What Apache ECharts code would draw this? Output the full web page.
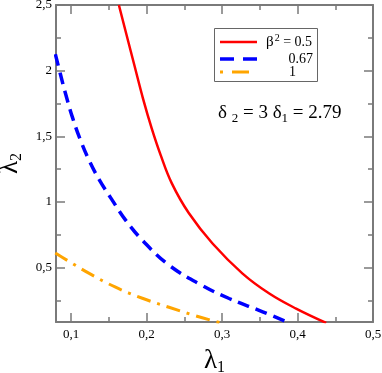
<!DOCTYPE html>
<html>
<head>
<meta charset="utf-8">
<script src="https://cdn.jsdelivr.net/npm/echarts@6/dist/echarts.min.js"></script>
<style>
  html, body { margin: 0; padding: 0; background: #fff; }
  #chart { width: 382px; height: 373px; }
</style>
</head>
<body>
<div id="chart"></div>
<script>
// 곡선 데이터
var redX = [0.1633, 0.1735, 0.1841, 0.1951, 0.2067, 0.2187, 0.2333, 0.2559, 0.2874, 0.3272, 0.3626, 0.3981, 0.4380];
var redY = [2.5, 2.271, 2.035, 1.791, 1.562, 1.356, 1.143, 0.915, 0.683, 0.454, 0.302, 0.187, 0.078];

var blueX = [0.0791, 0.0858, 0.0924, 0.1017, 0.1124, 0.1243, 0.1376, 0.1536, 0.1722, 0.1944, 0.2297, 0.2741, 0.3094, 0.3538, 0.3892];
var blueY = [2.126, 1.974, 1.829, 1.646, 1.471, 1.311, 1.166, 1.021, 0.861, 0.708, 0.518, 0.362, 0.264, 0.163, 0.078];

var orangeX = [0.0791, 0.0968, 0.1234, 0.1589, 0.1944, 0.2297, 0.2652, 0.2984];
var orangeY = [0.611, 0.548, 0.457, 0.350, 0.266, 0.197, 0.132, 0.078];

var seriesNames = ['0.5', '0.67', '1'];

// 축 눈금
var xMajor = [0.1, 0.2, 0.3, 0.4, 0.5];
var xMinor = [0.15, 0.25, 0.35, 0.45];
var yMajor = [0.5, 1, 1.5, 2, 2.5];
var yMinor = [0.25, 0.75, 1.25, 1.75, 2.25];

var xMin = 0.08, xMax = 0.5;
var yMin = 0.085, yMax = 2.5;

function pairs(xs, ys) {
  var out = [];
  for (var i = 0; i < xs.length; i++) out.push([xs[i], ys[i]]);
  return out;
}

function commaFmt(v) {
  return String(v).replace('.', ',');
}

var lineColor = '#7a7a7a';
var serif = 'Liberation Serif';

function makeAxis(pos, min, max, ticks, len, showLine, showLabel) {
  return {
    type: 'value',
    position: pos,
    min: min,
    max: max,
    axisLine: { show: showLine, onZero: false, lineStyle: { color: lineColor, width: 2 } },
    axisTick: { show: true, inside: true, length: len, customValues: ticks, lineStyle: { color: lineColor, width: 1.5 } },
    axisLabel: { show: showLabel, customValues: ticks, formatter: commaFmt, color: '#000', fontFamily: serif, fontSize: 13, margin: 6 },
    splitLine: { show: false }
  };
}

var nameRich = {
  l: { fontFamily: serif, fontSize: 27, color: '#000', lineHeight: 30 },
  s: { fontFamily: serif, fontSize: 16, color: '#000', lineHeight: 30, padding: [14, 0, 0, 0] }
};

var xAxes = [
  makeAxis('bottom', xMin, xMax, xMajor, 9, true, true),
  makeAxis('bottom', xMin, xMax, xMinor, 5, false, false),
  makeAxis('top', xMin, xMax, xMajor, 9, true, false),
  makeAxis('top', xMin, xMax, xMinor, 5, false, false)
];
xAxes[0].name = '{l|λ}{s|1}';
xAxes[0].nameLocation = 'middle';
xAxes[0].nameGap = 20;
xAxes[0].nameTextStyle = { rich: nameRich };

var yAxes = [
  makeAxis('left', yMin, yMax, yMajor, 9, true, true),
  makeAxis('left', yMin, yMax, yMinor, 5, false, false),
  makeAxis('right', yMin, yMax, yMajor, 9, true, false),
  makeAxis('right', yMin, yMax, yMinor, 5, false, false)
];
yAxes[0].axisLabel.margin = 4;
yAxes[0].name = '{l|λ}{s|2}';
yAxes[0].nameLocation = 'middle';
yAxes[0].nameRotate = 90;
yAxes[0].nameGap = 28;
yAxes[0].nameTextStyle = { rich: nameRich };

var chart = echarts.init(document.getElementById('chart'), null, { renderer: 'canvas' });

var option = {
  animation: false,
  backgroundColor: '#fff',
  grid: { left: 56, right: 9, top: 5, bottom: 51, containLabel: false, outerBoundsMode: 'none' },
  xAxis: xAxes,
  yAxis: yAxes,
  series: [
    {
      name: seriesNames[0], type: 'line', data: pairs(redX, redY),
      smooth: 0.4, showSymbol: false, clip: true,
      lineStyle: { color: '#ff0000', width: 2.5 }
    },
    {
      name: seriesNames[1], type: 'line', data: pairs(blueX, blueY),
      smooth: 0.4, showSymbol: false, clip: true,
      lineStyle: { color: '#0000ff', width: 3.5, type: [12, 7] }
    },
    {
      name: seriesNames[2], type: 'line', data: pairs(orangeX, orangeY),
      smooth: 0.4, showSymbol: false, clip: true,
      lineStyle: { color: '#ffa500', width: 3, type: [14, 7, 3, 7] }
    }
  ],
  graphic: [
    // 범례 박스
    { type: 'rect', shape: { x: 214.5, y: 28.5, width: 103, height: 53 }, style: { fill: '#fff', stroke: '#666', lineWidth: 1 }, z: 100 },
    { type: 'line', shape: { x1: 220, y1: 42, x2: 257, y2: 42 }, style: { stroke: '#ff0000', lineWidth: 2.5 }, z: 101 },
    { type: 'line', shape: { x1: 220, y1: 59, x2: 257, y2: 59 }, style: { stroke: '#0000ff', lineWidth: 3.5, lineDash: [14, 9] }, z: 101 },
    { type: 'line', shape: { x1: 220, y1: 72, x2: 251, y2: 72 }, style: { stroke: '#ffa500', lineWidth: 3, lineDash: [3, 9, 17, 9] }, z: 101 },
    {
      type: 'text', x: 266, y: 42, z: 101,
      style: {
        text: '{b|β}{p|2}{t| = ' + seriesNames[0] + '}',
        verticalAlign: 'middle',
        rich: {
          b: { fontFamily: serif, fontSize: 15, fill: '#000' },
          p: { fontFamily: serif, fontSize: 10, fill: '#000', padding: [0, 0, 8, 1] },
          t: { fontFamily: serif, fontSize: 14, fill: '#000' }
        }
      }
    },
    { type: 'text', x: 313, y: 59, z: 101, style: { text: seriesNames[1], fontFamily: serif, fontSize: 14, fill: '#000', align: 'right', verticalAlign: 'middle' } },
    { type: 'text', x: 296, y: 72, z: 101, style: { text: seriesNames[2], fontFamily: serif, fontSize: 14, fill: '#000', align: 'right', verticalAlign: 'middle' } },
    // δ 텍스트
    {
      type: 'text', x: 218, y: 113, z: 101,
      style: {
        text: '{d|δ }{s|2}{d| = 3 δ}{s|1}{d| = 2.79}',
        verticalAlign: 'middle',
        rich: {
          d: { fontFamily: serif, fontSize: 19, fill: '#000', lineHeight: 24 },
          s: { fontFamily: serif, fontSize: 13, fill: '#000', lineHeight: 24, padding: [12, 0, 0, 0] }
        }
      }
    }
  ]
};

chart.setOption(option);
</script>
</body>
</html>
